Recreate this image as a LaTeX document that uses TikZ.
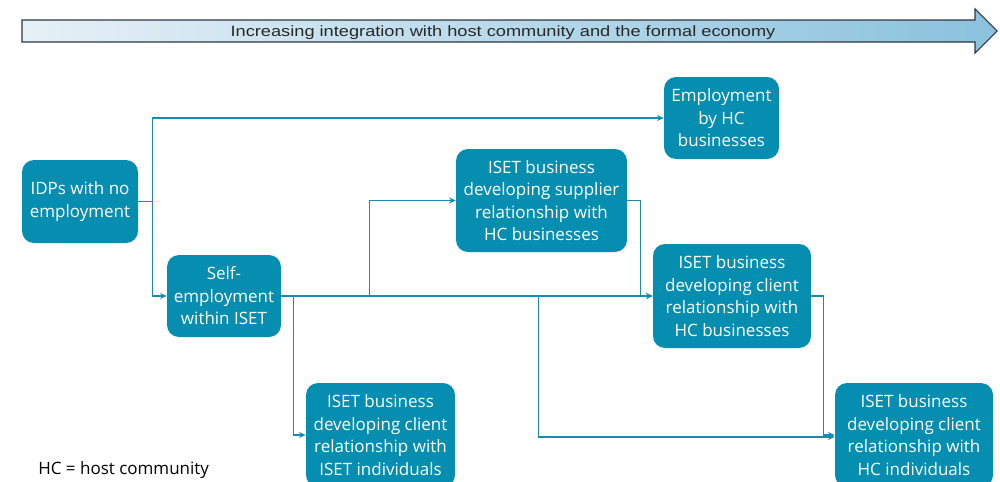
\documentclass[tikz,border=0pt]{standalone}
\usepackage{fontspec}
\setmainfont{Open Sans}
\newfontfamily\bannerfont[FakeStretch=1.22]{Liberation Sans}
\usetikzlibrary{arrows.meta}
\definecolor{boxfill}{RGB}{6,142,176}
\definecolor{linkcol}{RGB}{22,140,178}
\definecolor{bannerL}{RGB}{230,240,247}
\definecolor{bannerR}{RGB}{138,194,221}
\definecolor{bannerEdge}{RGB}{45,55,65}
\definecolor{bannerText}{RGB}{40,40,40}
\tikzset{
  stage/.style={rectangle, rounded corners=9pt, fill=boxfill, text=white,
    inner sep=0pt, align=center,
    font=\fontsize{12.75pt}{16.9pt}\selectfont},
  link/.style={draw=linkcol, line width=1pt},
  flow/.style={link, -{Stealth[length=5pt,width=4.5pt]}},
}
\begin{document}
\begin{tikzpicture}[x=0.75pt,y=-0.75pt]
\useasboundingbox (0,0) rectangle (1000,482);

% banner arrow along the top
\shade[left color=bannerL, right color=bannerR, draw=bannerEdge, line width=0.8pt]
  (22,20) -- (975,20) -- (975,9) -- (997,31) -- (975,53) -- (975,42) -- (22,42) -- cycle;
\node[anchor=base, inner sep=0pt, text=bannerText,
  font=\bannerfont\fontsize{11.2pt}{13pt}\selectfont] (banner) at (503,36.5)
  {Increasing integration with host community and the formal economy};

% stages
\node[stage, minimum width=87pt, minimum height=62.25pt] (idp) at (80,201.5)
  {IDPs with no\\employment};
\node[stage, minimum width=85.5pt, minimum height=61.5pt] (self) at (224,296)
  {Self-\\employment\\within ISET};
\node[stage, minimum width=128.25pt, minimum height=77.25pt] (supp) at (541.5,200.5)
  {ISET business\\developing supplier\\relationship with\\HC businesses};
\node[stage, minimum width=86.25pt, minimum height=61.5pt] (emp) at (721.5,118)
  {Employment\\by HC\\businesses};
\node[stage, minimum width=118.5pt, minimum height=78pt] (chcb) at (732,296)
  {ISET business\\developing client\\relationship with\\HC businesses};
\node[stage, minimum width=111.75pt, minimum height=78pt] (cisi) at (380.5,435)
  {ISET business\\developing client\\relationship with\\ISET individuals};
\node[stage, minimum width=118.5pt, minimum height=78pt] (chci) at (914,435)
  {ISET business\\developing client\\relationship with\\HC individuals};

% legend
\node[anchor=west, text=black, font=\fontsize{12.75pt}{15pt}\selectfont, inner sep=0pt] (legend) at (38,470)
  {HC = host community};

% connectors
\draw[link] (idp.east) -- ++(14,0) coordinate (j1);
\draw[flow] (j1) |- (emp.west);
\draw[flow] (j1) |- (self.west);

\draw[flow] (self.east) -- (chcb.west);
\coordinate (b1) at ([xshift=9pt]self.east);
\coordinate (b2) at ([xshift=66pt]self.east);
\coordinate (b3) at ([xshift=192.75pt]self.east);
\draw[flow] (b1) |- (cisi.west);
\draw[flow] (b2) |- (supp.west);
\draw[flow] (b3) |- ([yshift=-1.5pt]chci.west);

\draw[flow] (supp.east) -- ++(13,0) |- (chcb.west);
\draw[flow] (chcb.east) -- ++(12,0) |- (chci.west);
\end{tikzpicture}
\end{document}
